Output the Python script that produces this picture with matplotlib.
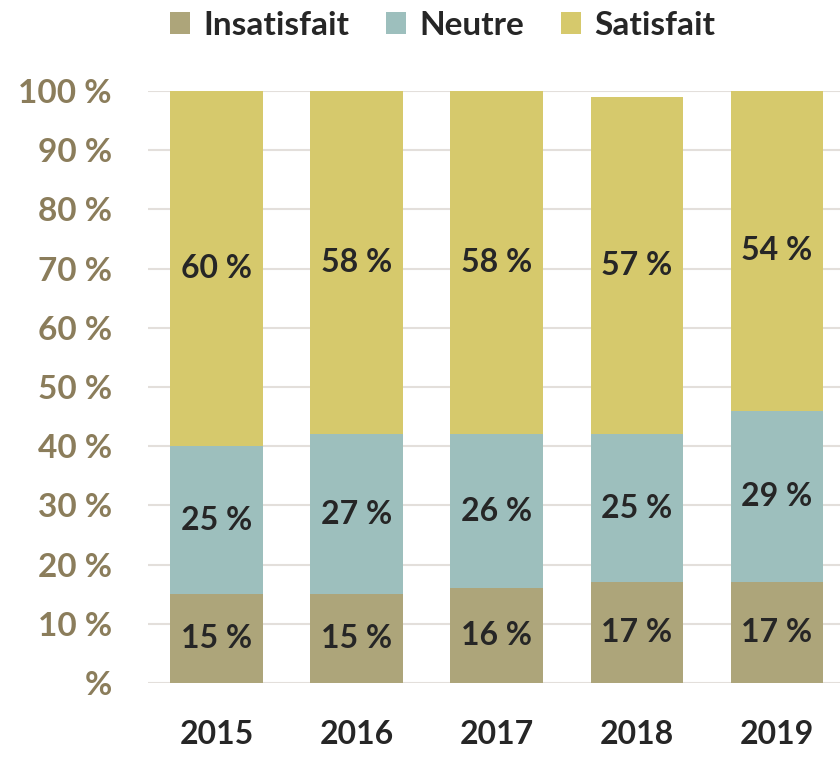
import matplotlib.pyplot as plt
import numpy as np

years = ['2015', '2016', '2017', '2018', '2019']
insatisfait = [15, 15, 16, 17, 17]
neutre = [25, 27, 26, 25, 29]
satisfait = [60, 58, 58, 57, 54]

series = [('Insatisfait', insatisfait, '#ADA57A'),
          ('Neutre', neutre, '#9DBFBD'),
          ('Satisfait', satisfait, '#D6C96C')]

plt.rcParams['font.family'] = ['Lato', 'DejaVu Sans']

fig = plt.figure(figsize=(8.4, 7.61), dpi=100)
ax = fig.add_axes([0.176, 0.1025, 0.824, 0.778])

x = np.arange(len(years))
bottom = np.zeros(len(years))
for name, vals, col in series:
    vals = np.array(vals, dtype=float)
    ax.bar(x, vals, 0.66, bottom=bottom, color=col, label=name, zorder=2)
    for xi, b, v in zip(x, bottom, vals):
        ax.text(xi, b + v / 2, '%d %%' % v, ha='center', va='center',
                fontsize=23, fontweight='bold', color='#262626', zorder=3)
    bottom += vals

ax.set_xlim(-0.49, 4.45)
ax.set_ylim(0, 100)
ticks = np.arange(0, 101, 10)
ax.set_yticks(ticks)
ax.set_yticklabels(['%'] + ['%d %%' % t for t in ticks[1:]])
ax.set_xticks(x)
ax.set_xticklabels(years)
ax.grid(axis='y', color='#E3DFDB', linewidth=1.5, zorder=0)
for s in ax.spines.values():
    s.set_visible(False)
ax.tick_params(length=0)
ax.tick_params(axis='y', pad=26, labelsize=24, labelcolor='#8B7D5B')
ax.tick_params(axis='x', pad=27, labelsize=23, labelcolor='#262626')
for lab in ax.get_yticklabels() + ax.get_xticklabels():
    lab.set_fontweight('bold')

leg = fig.legend(loc='center', bbox_to_anchor=(0.527, 0.967), ncol=3, frameon=False,
                 prop={'size': 24, 'weight': 'bold'}, handlelength=0.6, handleheight=0.65,
                 handletextpad=0.4, columnspacing=1.1, borderpad=0)
for t in leg.get_texts():
    t.set_color('#262626')

fig.savefig('out.png', dpi=100)
